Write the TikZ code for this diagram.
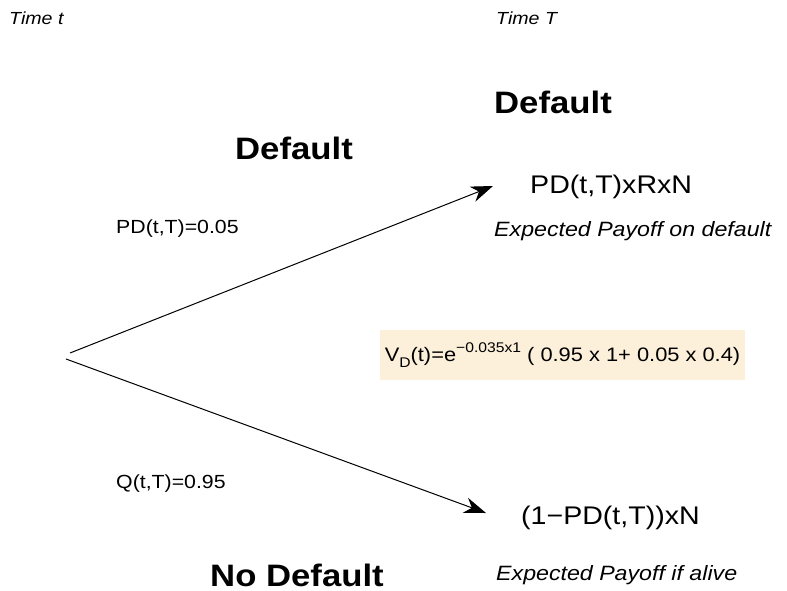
\documentclass[tikz,border=0pt]{standalone}
\usepackage{fontspec}
\setmainfont[FakeStretch=1.12]{Liberation Sans}
\usepackage{xcolor}
\usetikzlibrary{arrows.meta}
\definecolor{boxcream}{RGB}{253,240,218}
\newcommand\Fs[1]{\fontsize{#1}{#1}\selectfont}

\begin{document}
\begin{tikzpicture}[x=1pt,y=-1pt,
  branch/.style={line width=1pt,-{Stealth[length=22pt,width=16pt,inset=7pt]}},
  timelabel/.style={anchor=west,inner sep=0pt,font=\Fs{17.5}\itshape},
  outcome/.style={inner sep=0pt,font=\Fs{31}\bfseries},
  payoff/.style={anchor=west,inner sep=0pt,font=\Fs{25.5}},
  caption/.style={anchor=west,inner sep=0pt,font=\Fs{20.7}\itshape},
  prob/.style={anchor=west,inner sep=0pt,font=\Fs{19}},
  formula/.style={fill=boxcream,minimum width=365pt,minimum height=50pt,inner sep=0pt,font=\Fs{19.5}}]
\useasboundingbox (0,0) rectangle (787,591);

% time axis
\node[timelabel] (tnow) at (9,18) {Time t};
\node[timelabel] (tend) at (496,18) {Time T};

% branches
\coordinate (upstart) at (70,353);
\coordinate (lostart) at (66,359);
\coordinate (upend) at (493,186);
\coordinate (loend) at (486,513);
\draw[branch] (upstart) -- (upend);
\draw[branch] (lostart) -- (loend);

% default side
\node[outcome] (deftop) at (553,102) {Default};
\node[outcome] (defleft) at (294,148) {Default};
\node[payoff] (pdpay) at (530,187) {PD(t,T)xRxN};
\node[caption] (pdcap) at (494,231) {Expected Payoff on default};
\node[prob] (pdprob) at (116,229) {PD(t,T)=0.05};

% value
\node[formula] (val) at (562.5,355) {V\raisebox{-6pt}{\Fs{14}D}(t)=e\raisebox{9pt}{\Fs{14}−0.035x1} ( 0.95 x 1+ 0.05 x 0.4)};

% survival side
\node[prob] (qprob) at (116,484) {Q(t,T)=0.95};
\node[payoff] (qpay) at (521,518) {(1−PD(t,T))xN};
\node[outcome] (nodef) at (297,575) {No Default};
\node[caption] (qcap) at (496,575) {Expected Payoff if alive};
\end{tikzpicture}
\end{document}
